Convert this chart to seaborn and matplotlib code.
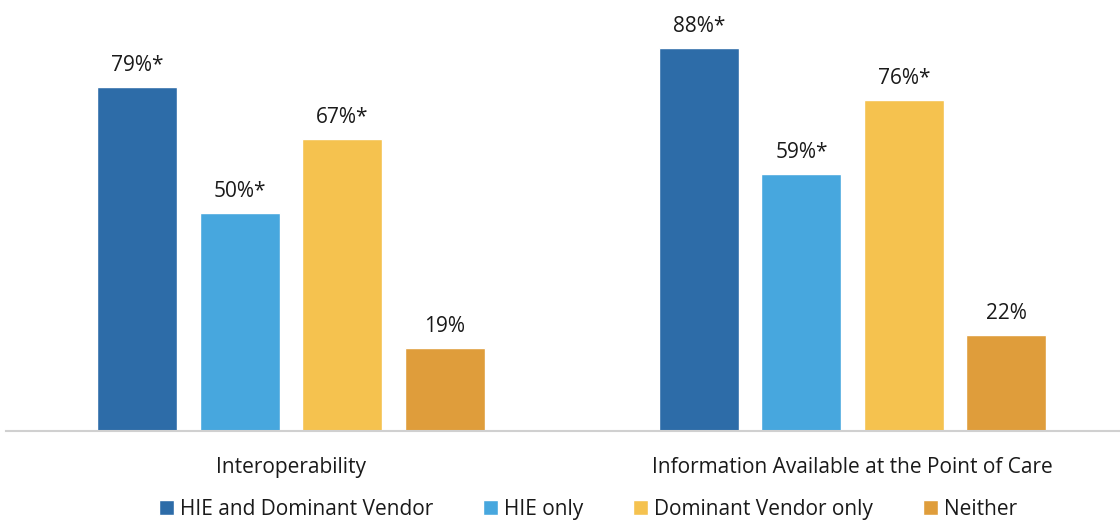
import matplotlib
matplotlib.use("Agg")
import matplotlib.pyplot as plt
import seaborn as sns
import pandas as pd
from matplotlib.patches import Patch

categories = ["Interoperability", "Information Available at the Point of Care"]
series = ["HIE and Dominant Vendor", "HIE only", "Dominant Vendor only", "Neither"]
values = {
    "HIE and Dominant Vendor": [79, 88],
    "HIE only": [50, 59],
    "Dominant Vendor only": [67, 76],
    "Neither": [19, 22],
}
labels = {
    "HIE and Dominant Vendor": ["79%*", "88%*"],
    "HIE only": ["50%*", "59%*"],
    "Dominant Vendor only": ["67%*", "76%*"],
    "Neither": ["19%", "22%"],
}
colors = ["#2D6CA8", "#47A7DE", "#F5C24F", "#DF9D3B"]

rows = []
for s in series:
    for c, v in zip(categories, values[s]):
        rows.append({"category": c, "series": s, "value": v})
df = pd.DataFrame(rows)

sns.set_theme(style="white")
plt.rcParams['font.family'] = ['Open Sans', 'DejaVu Sans']

fig = plt.figure(figsize=(11.2, 5.27), dpi=100)
ax = fig.add_axes([0.005, 0.182, 0.995, 0.818])
sns.barplot(data=df, x="category", y="value", hue="series", order=categories,
            hue_order=series, palette=colors, width=0.73, gap=0.22,
            saturation=1, ax=ax, legend=False)

for container, s in zip(ax.containers, series):
    ax.bar_label(container, labels=labels[s], padding=8, fontsize=15, color="#1a1a1a")

ax.set_xlim(-0.508, 1.476)
ax.set_ylim(0, 99)
ax.set_xlabel("")
ax.set_ylabel("")
ax.set_yticks([])
for sp in ["top", "right", "left"]:
    ax.spines[sp].set_visible(False)
ax.spines["bottom"].set_color("#D0D0D0")
ax.spines["bottom"].set_linewidth(1.5)
ax.tick_params(axis="x", length=0, pad=19, labelsize=15, labelcolor="#1a1a1a")

handles = [Patch(facecolor=c, label=s) for c, s in zip(colors, series)]
fig.legend(handles=handles, loc="lower center", bbox_to_anchor=(0.525, -0.022), ncol=4,
           frameon=False, fontsize=15, handlelength=0.7, handleheight=0.7,
           handletextpad=0.3, columnspacing=2.4, labelcolor="#1a1a1a")

fig.savefig("out.png", dpi=100)
